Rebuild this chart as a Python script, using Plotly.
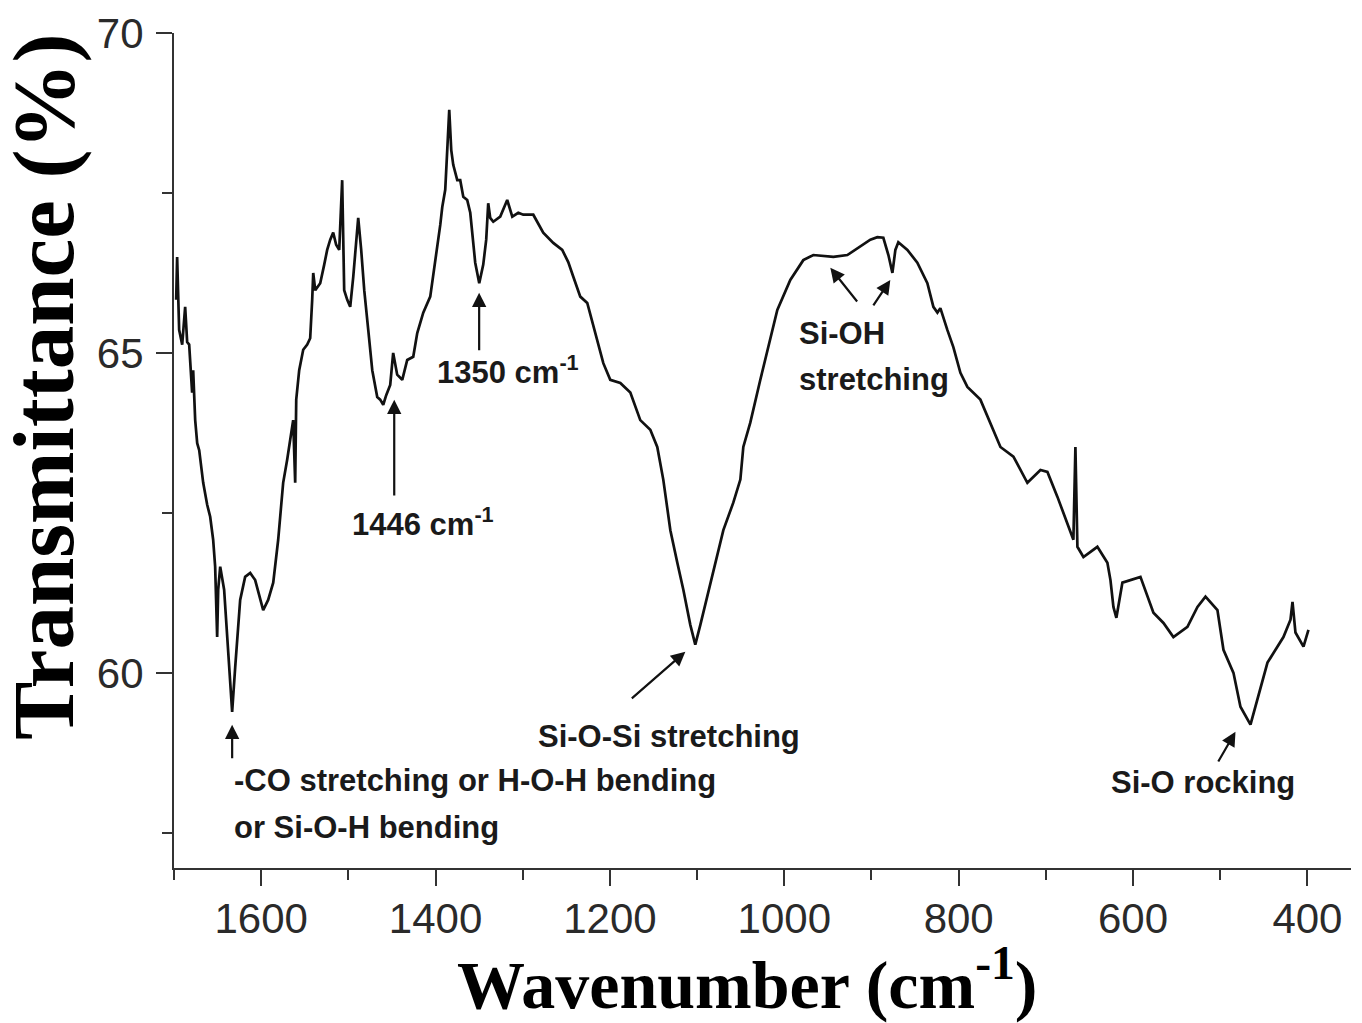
import plotly.graph_objects as go

# FTIR spectrum
wavenumber = [
    1697.5, 1696.4, 1694.1, 1690.6, 1687.2, 1684.9, 1682.6, 1681.5, 1679.2, 1678.0,
    1675.7, 1673.4, 1671.1, 1666.5, 1662.0, 1658.5, 1655.1, 1652.8, 1650.5, 1649.3,
    1647.0, 1642.5, 1637.9, 1633.3, 1629.8, 1624.1, 1618.4, 1612.6, 1606.9, 1597.7,
    1592.0, 1586.2, 1580.5, 1574.8, 1570.2, 1566.7, 1563.3, 1561.0, 1559.8, 1556.4,
    1551.8, 1547.2, 1543.8, 1541.5, 1540.3, 1538.0, 1532.3, 1527.7, 1524.3, 1520.8,
    1517.4, 1514.0, 1510.5, 1507.1, 1504.8, 1501.3, 1497.9, 1494.4, 1491.0, 1488.7,
    1485.3, 1481.8, 1477.2, 1472.6, 1466.9, 1463.5, 1460.0, 1456.6, 1452.0, 1448.6,
    1444.0, 1438.2, 1432.5, 1425.6, 1421.0, 1414.1, 1406.1, 1401.5, 1398.1, 1394.6,
    1392.3, 1388.9, 1386.6, 1384.3, 1382.0, 1379.7, 1375.1, 1371.7, 1368.2, 1363.7,
    1360.2, 1354.5, 1349.9, 1345.3, 1341.9, 1339.6, 1337.3, 1333.8, 1325.8, 1317.8,
    1312.0, 1305.1, 1299.4, 1287.9, 1276.5, 1265.0, 1254.7, 1247.8, 1242.0, 1234.0,
    1226.0, 1219.1, 1207.6, 1199.6, 1188.1, 1176.6, 1165.2, 1153.7, 1145.7, 1138.8,
    1130.7, 1122.7, 1115.8, 1107.8, 1102.1, 1096.3, 1092.9, 1081.4, 1069.9, 1058.5,
    1050.4, 1047.0, 1039.0, 1027.5, 1016.0, 1008.0, 993.1, 978.2, 966.7, 943.7,
    927.7, 912.8, 901.3, 893.3, 886.4, 880.6, 876.0, 872.6, 869.2, 858.8,
    847.4, 835.9, 829.0, 824.4, 821.0, 813.0, 806.1, 798.0, 790.0, 775.1,
    763.6, 752.1, 737.2, 721.2, 706.2, 698.2, 686.7, 679.9, 671.8, 668.4,
    666.1, 663.8, 656.9, 640.9, 629.4, 625.9, 622.5, 619.1, 612.2, 603.0,
    591.5, 576.6, 565.1, 553.7, 537.6, 526.1, 516.9, 503.2, 496.3, 484.8,
    476.8, 465.3, 457.3, 445.8, 438.9, 427.5, 419.4, 417.1, 413.7, 404.5,
    398.8,
]
transmittance = [
    65.83, 66.50, 65.36, 65.13, 65.72, 65.17, 65.13, 64.84, 64.38, 64.73,
    63.95, 63.59, 63.48, 62.97, 62.63, 62.44, 62.08, 61.66, 60.56, 61.30,
    61.66, 61.30, 60.36, 59.39, 60.09, 61.14, 61.50, 61.56, 61.45, 60.98,
    61.14, 61.41, 62.08, 62.97, 63.33, 63.64, 63.95, 62.97, 64.27, 64.73,
    65.05, 65.13, 65.23, 65.83, 66.25, 65.98, 66.09, 66.38, 66.61, 66.77,
    66.88, 66.69, 66.61, 67.70, 65.98, 65.83, 65.72, 66.19, 66.77, 67.11,
    66.61, 65.98, 65.36, 64.73, 64.31, 64.27, 64.19, 64.34, 64.50, 65.00,
    64.66, 64.58, 64.89, 64.94, 65.31, 65.63, 65.88, 66.30, 66.66, 67.00,
    67.28, 67.55, 68.17, 68.80, 68.17, 67.94, 67.70, 67.70, 67.44, 67.39,
    67.19, 66.41, 66.09, 66.38, 66.77, 67.34, 67.11, 67.05, 67.13, 67.39,
    67.13, 67.19, 67.16, 67.16, 66.88, 66.72, 66.61, 66.42, 66.19, 65.88,
    65.78, 65.41, 64.84, 64.58, 64.53, 64.38, 63.95, 63.80, 63.53, 63.02,
    62.23, 61.72, 61.30, 60.75, 60.44, 60.75, 60.94, 61.56, 62.23, 62.66,
    63.02, 63.53, 63.91, 64.58, 65.25, 65.67, 66.14, 66.45, 66.53, 66.50,
    66.53, 66.66, 66.77, 66.81, 66.80, 66.53, 66.25, 66.61, 66.73, 66.61,
    66.41, 66.09, 65.72, 65.63, 65.70, 65.36, 65.09, 64.69, 64.47, 64.27,
    63.91, 63.53, 63.38, 62.97, 63.17, 63.14, 62.75, 62.50, 62.19, 62.08,
    63.53, 61.97, 61.81, 61.97, 61.72, 61.45, 61.03, 60.86, 61.41, 61.45,
    61.50, 60.94, 60.78, 60.56, 60.72, 61.03, 61.19, 60.98, 60.36, 60.00,
    59.47, 59.19, 59.58, 60.16, 60.31, 60.56, 60.83, 61.11, 60.63, 60.41,
    60.67,
]

x_ticks = [1600, 1400, 1200, 1000, 800, 600, 400]
y_ticks = [60, 65, 70]

# annotation labels
label_texts = [
    "-CO stretching or H-O-H bending",
    "or Si-O-H bending",
    "1446 cm<sup>-1</sup>",
    "1350 cm<sup>-1</sup>",
    "Si-O-Si stretching",
    "Si-OH",
    "stretching",
    "Si-O rocking",
]
label_x = [1633.3, 1633.3, 1414.0, 1316.6, 1131.9, 985.0, 985.0, 519.3]
label_y = [58.31, 57.58, 62.36, 64.73, 59.00, 65.31, 64.58, 58.28]
label_anchor = ["left", "left", "center", "center", "center", "left", "left", "center"]

# arrows: tail (x, y) -> head (x, y)
arrow_tail_x = [1633.3, 1447.4, 1350.0, 1176.6, 915.1, 899.0, 503.2]
arrow_tail_y = [58.64, 62.75, 65.02, 59.58, 65.78, 65.72, 58.59]
arrow_head_x = [1633.3, 1447.4, 1350.0, 1113.5, 947.2, 878.4, 482.5]
arrow_head_y = [59.19, 64.27, 65.94, 60.33, 66.33, 66.14, 59.08]

fig = go.Figure()
fig.add_trace(go.Scatter(
    x=wavenumber, y=transmittance, mode="lines",
    line=dict(color="#111111", width=2.7), showlegend=False,
))

label_font = dict(family="Liberation Sans, Arial, sans-serif", size=31, color="#1a1a1a")
for t, x, y, a in zip(label_texts, label_x, label_y, label_anchor):
    fig.add_annotation(
        text="<b>" + t + "</b>", x=x, y=y, xref="x", yref="y", xanchor=a, yanchor="middle",
        showarrow=False, font=label_font,
    )
for tx, ty, hx, hy in zip(arrow_tail_x, arrow_tail_y, arrow_head_x, arrow_head_y):
    fig.add_annotation(
        text="", x=hx, y=hy, ax=tx, ay=ty, xref="x", yref="y", axref="x", ayref="y",
        showarrow=True, arrowhead=2, arrowsize=1.3, arrowwidth=2.2,
        arrowcolor="#111111", standoff=0, startstandoff=0,
    )

title_font = "Liberation Serif, Times New Roman, serif"
fig.add_annotation(
    text="<b>Wavenumber (cm<sup>-1</sup>)</b>", x=0.4868, y=-0.1346,
    xref="paper", yref="paper", showarrow=False, xanchor="center", yanchor="middle",
    font=dict(family=title_font, size=68, color="#000000"),
)
fig.add_annotation(
    text="<b>Transmittance (%)</b>", x=-0.1115, y=0.576, xref="paper", yref="paper",
    textangle=-90, showarrow=False, xanchor="center", yanchor="middle",
    font=dict(family=title_font, size=87, color="#000000"),
)

# the page body has an 8px margin, so the figure is shrunk by it
fig.update_layout(
    width=1354, height=1015,
    margin=dict(l=166, r=11, t=25, b=155),
    paper_bgcolor="white", plot_bgcolor="white",
)

axis_font = dict(family="Liberation Sans, Arial, sans-serif", size=42, color="#2a2a2a")
fig.update_xaxes(
    range=[1700, 350], tickvals=x_ticks, ticks="outside", ticklen=16, tickwidth=2,
    tickcolor="#333333", showline=True, linewidth=2.2, linecolor="#333333",
    showgrid=False, zeroline=False, tickfont=axis_font, ticklabelstandoff=-4,
    automargin=False,
    minor=dict(dtick=100, tick0=0, ticks="outside", ticklen=10, tickwidth=2, tickcolor="#333333"),
)
fig.update_yaxes(
    range=[56.95, 70], tickvals=y_ticks, ticks="outside", ticklen=16, tickwidth=2,
    tickcolor="#333333", showline=True, linewidth=2.2, linecolor="#333333",
    showgrid=False, zeroline=False, tickfont=axis_font, ticklabelstandoff=4,
    automargin=False,
    minor=dict(dtick=2.5, tick0=0, ticks="outside", ticklen=10, tickwidth=2, tickcolor="#333333"),
)

fig.write_html("out.html")
